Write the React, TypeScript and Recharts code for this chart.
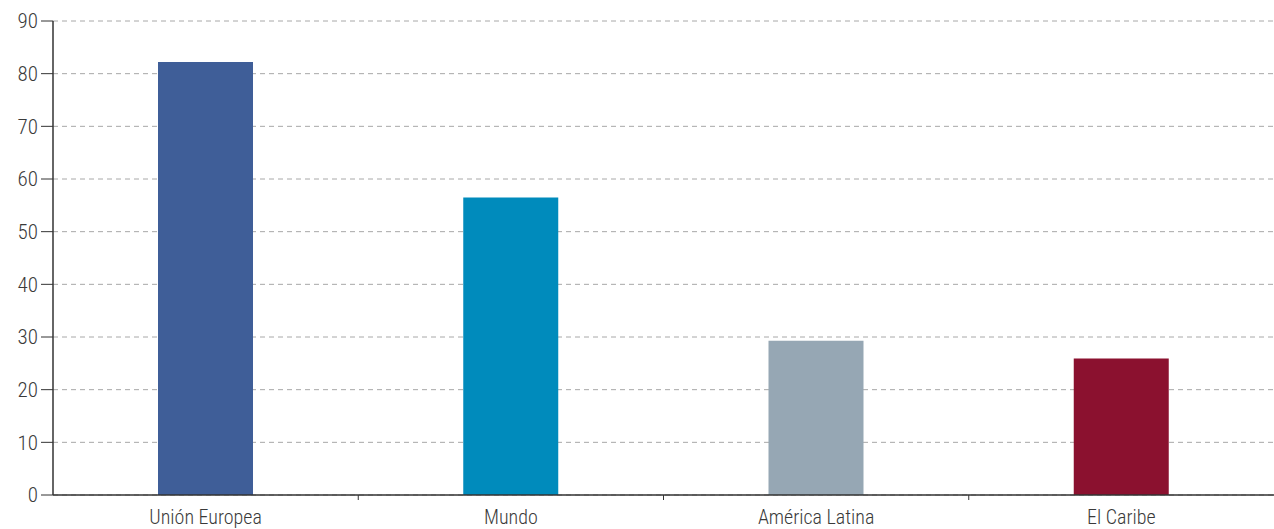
import { BarChart, Bar, XAxis, YAxis, CartesianGrid, Cell } from 'recharts';

const categories = ['Unión Europea', 'Mundo', 'América Latina', 'El Caribe'];
const values = [82.2, 56.5, 29.3, 25.9];
const colors = ['#3f5e98', '#008bbc', '#96a7b4', '#8b112f'];
const yTicks = [0, 10, 20, 30, 40, 50, 60, 70, 80, 90];

const data = categories.map((name, i) => ({ name, value: values[i] }));

const W = 1274;
const H = 529;
const LEFT = 53;
const FONT = '"Liberation Sans Narrow", "Roboto Condensed", "DejaVu Sans Condensed", sans-serif';
const band = (W - LEFT) / categories.length;

// category label plus a small tick on the left band edge
function CategoryTick(props: any) {
  const { x, y, payload, index } = props;
  return (
    <g>
      {index > 0 && (
        <line x1={x - band / 2} x2={x - band / 2} y1={y - 8} y2={y - 3} stroke="#333" strokeWidth={1} />
      )}
      <text x={x} y={y + 21} textAnchor="middle" fill="#3a3a3a" fontSize={20} fontWeight={300} fontFamily={FONT}>
        {payload.value}
      </text>
    </g>
  );
}

export default function App() {
  return (
    <div style={{ position: 'absolute', left: 0, top: 0, background: '#fff' }}>
      <BarChart width={W} height={H} data={data} margin={{ top: 21, right: 0, left: 0, bottom: 0 }}>
        <CartesianGrid vertical={false} stroke="#a8a8a8" strokeDasharray="5 4" />
        <XAxis
          dataKey="name"
          height={34}
          tickLine={false}
          axisLine={{ stroke: '#333', strokeWidth: 1.5 }}
          tick={<CategoryTick />}
          interval={0}
        />
        <YAxis
          width={LEFT}
          domain={[0, 90]}
          ticks={yTicks}
          interval={0}
          tickSize={12}
          tickMargin={3}
          tickLine={{ stroke: '#333' }}
          axisLine={{ stroke: '#333', strokeWidth: 1.5 }}
          tick={{ fill: '#3a3a3a', fontSize: 21, fontWeight: 300, fontFamily: FONT }}
        />
        <Bar dataKey="value" barSize={95} isAnimationActive={false}>
          {data.map((d, i) => (
            <Cell key={d.name} fill={colors[i]} />
          ))}
        </Bar>
      </BarChart>
    </div>
  );
}
